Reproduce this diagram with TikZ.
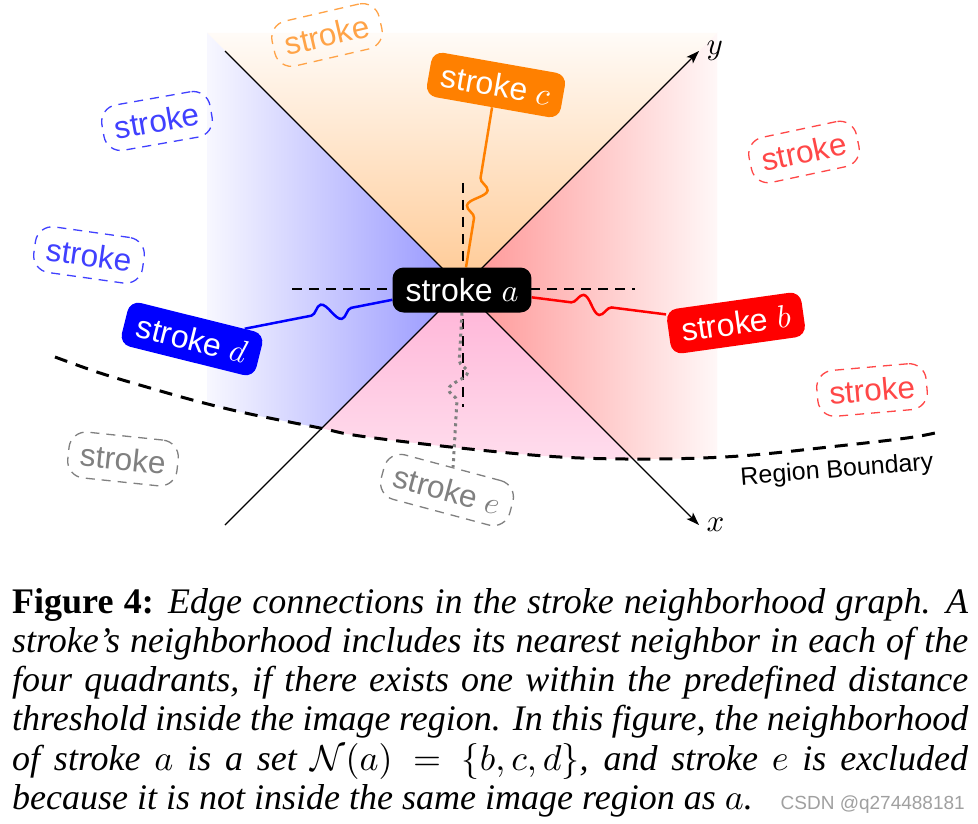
\documentclass[tikz,border=0pt]{standalone}
\usepackage{fontspec}
\setmainfont{Liberation Serif}
\setsansfont{Liberation Sans}
\DeclareFontShape{OML}{cmm}{m}{it}{<->cmmi10}{}
\DeclareFontShape{OMS}{cmsy}{m}{n}{<->cmsy10}{}
\DeclareFontShape{OT1}{cmr}{m}{n}{<->cmr10}{}
\DeclareFontShape{OMX}{cmex}{m}{n}{<->cmex10}{}
\usetikzlibrary{decorations.pathmorphing,arrows.meta,calc}
\pgfdeclarelayer{bg}
\pgfsetlayers{bg,main}
\definecolor{sorange}{RGB}{255,128,0}
\definecolor{sred}{RGB}{255,0,0}
\definecolor{sblue}{RGB}{0,0,255}
\definecolor{pinktop}{RGB}{255,178,214}
\definecolor{pinkbot}{RGB}{255,242,248}
\definecolor{ghostgray}{RGB}{128,128,128}
\definecolor{wmgray}{RGB}{160,160,160}
\tikzset{
  solidbox/.style={rounded corners=11pt, fill=#1, text=white, font=\sffamily\fontsize{32}{32}\selectfont, inner xsep=13pt, minimum height=45pt},
  ghostbox/.style={draw=#1, text=#1, dash pattern=on 9pt off 7pt, line width=1.3pt, rounded corners=17pt, font=\sffamily\fontsize{31.5}{32}\selectfont, inner xsep=12pt, minimum height=46pt},
  link/.style 2 args={line width=2.5pt, decorate, decoration={snake, amplitude=9pt, segment length=36pt, pre length=#1, post length=#2}},
  axis/.style={line width=1.3pt, -{Stealth[length=13pt,width=9pt,inset=3pt]}},
  cross/.style={line width=1.2pt, dash pattern=on 10pt off 7pt},
  boundary/.style={line width=3pt, dash pattern=on 13pt off 9pt},
  capline/.style={anchor=base west, inner sep=0pt, font=\fontsize{36}{40}\selectfont\itshape},
  axlabel/.style={font=\fontsize{31}{31}\selectfont, anchor=west, inner sep=7pt},
}
\begin{document}
\begin{tikzpicture}[x=1pt,y=-1pt]
\useasboundingbox (0,0) rectangle (978,824);
% nodes
\node[solidbox=black] (a) at (462,290) {stroke $a$};
\node[solidbox=sorange, rotate=-10] (c) at (496,85) {stroke $c$};
\node[solidbox=sred, rotate=8] (b) at (736,323) {stroke $b$};
\node[solidbox=sblue, rotate=-14] (d) at (192,339) {stroke $d$};
\node[ghostbox=ghostgray, rotate=-15] (e) at (447,490) {stroke $e$};
\node[ghostbox=orange!72, rotate=13] (g1) at (327,35) {stroke};
\node[ghostbox=blue!75, rotate=10] (g2) at (157,121) {stroke};
\node[ghostbox=blue!75, rotate=-8] (g3) at (89,255) {stroke};
\node[ghostbox=red!72, rotate=12] (g4) at (804,152) {stroke};
\node[ghostbox=red!72, rotate=5] (g5) at (872,390) {stroke};
\node[ghostbox=ghostgray, rotate=-6] (g6) at (123,459) {stroke};
\node[rotate=4.5, font=\sffamily\fontsize{25}{25}\selectfont] (rb) at (837,471) {Region Boundary};

\begin{pgfonlayer}{bg}
\fill[white] (0,0) rectangle (978,824);
\coordinate (O) at (462,288);
\begin{scope}
  \clip plot[smooth, tension=0.6] coordinates {(55,357) (100,373) (150,388) (200,402) (250,414) (320,428) (360,436) (460,448) (560,457) (650,459) (740,456) (838,446) (907,438) (935,433)} -- (935,0) -- (55,0) -- cycle;
  \begin{scope}
    \clip (O) -- (207,33) -- (717,33) -- cycle;
    \shade[top color=orange!3, bottom color=orange!42] (207,33) rectangle (717,288);
  \end{scope}
  \begin{scope}
    \clip (O) -- (207,33) -- (207,543) -- cycle;
    \shade[left color=blue!3, right color=blue!42] (207,33) rectangle (462,543);
  \end{scope}
  \begin{scope}
    \clip (O) -- (717,33) -- (717,543) -- cycle;
    \shade[left color=red!42, right color=red!3] (462,33) rectangle (717,543);
  \end{scope}
  \begin{scope}
    \clip (O) -- (207,543) -- (717,543) -- cycle;
    \shade[top color=pinktop, bottom color=pinkbot] (207,288) rectangle (717,543);
  \end{scope}
\end{scope}
% axes
\coordinate (tl) at (225,51);
\coordinate (br) at (699,525);
\coordinate (bl) at (225,525);
\coordinate (tr) at (699,51);
\draw[axis] (tl) -- (br) node[axlabel] (xl) {$x$};
\draw[axis] (bl) -- (tr) node[axlabel] (yl) {$y$};
% crosshair
\coordinate (hl) at (292,289); \coordinate (hr) at (635,289);
\coordinate (vt) at (463,183); \coordinate (vb) at (463,407);
\draw[cross] (hl) -- (hr);
\draw[cross] (vt) -- (vb);
% boundary
\draw[boundary] plot[smooth, tension=0.6] coordinates {(55,357) (100,373) (150,388) (200,402) (250,414) (320,428) (360,436) (460,448) (560,457) (650,459) (740,456) (838,446) (907,438) (935,433)};
% connectors
\draw[link={50pt}{70pt}, sorange] (a.80) -- (c.south);
\draw[link={40pt}{52pt}, sred] (a.-6) -- (b.165);
\draw[link={42pt}{62pt}, sblue] (a.188) -- (d.25);
\draw[ghostgray, line width=3pt, dash pattern=on 3pt off 4pt, decorate, decoration={snake, amplitude=9pt, segment length=36pt, pre length=48pt, post length=62pt}] (a.south) -- (e.north);
\end{pgfonlayer}

% caption
\node[capline] (cap1) at (12,613) {\makebox[956pt][s]{\textbf{\upshape Figure 4:} Edge connections in the stroke neighborhood graph. A}};
\node[capline] (cap2) at (12,652.3) {\makebox[956pt][s]{stroke's neighborhood includes its nearest neighbor in each of the}};
\node[capline] (cap3) at (12,691.6) {\makebox[956pt][s]{four quadrants, if there exists one within the predefined distance}};
\node[capline] (cap4) at (12,730.9) {\makebox[956pt][s]{threshold inside the image region. In this figure, the neighborhood}};
\node[capline] (cap5) at (12,770.2) {\makebox[956pt][s]{of stroke $a$ is a set $\mathcal{N}(a) = \{b, c, d\}$, and stroke $e$ is excluded}};
\node[capline] (cap6) at (12,809.5) {because it is not inside the same image region as $a$.};
\node[anchor=base east, font=\sffamily\fontsize{19}{19}\selectfont, text=wmgray, inner sep=0pt] (wm) at (965,809) {CSDN @q274488181};
\end{tikzpicture}
\end{document}
